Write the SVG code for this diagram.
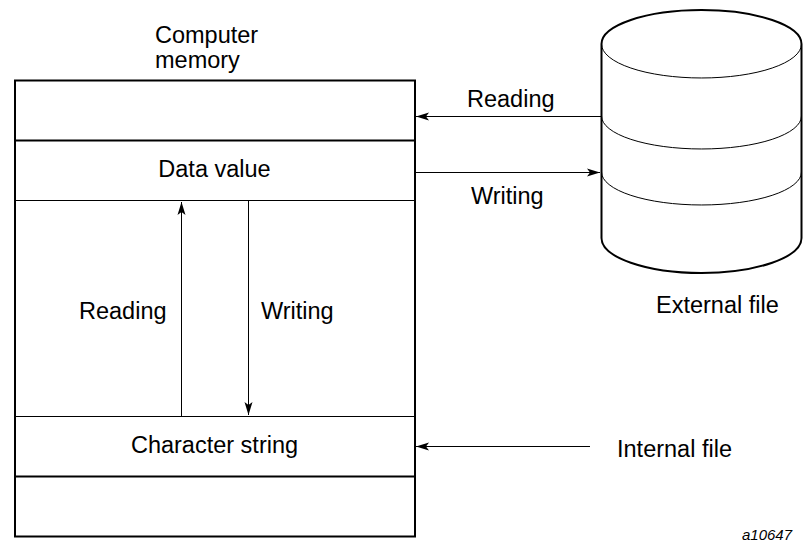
<svg xmlns="http://www.w3.org/2000/svg" width="803" height="542" viewBox="0 0 803 542">
<style>
text{font-family:"Liberation Sans",Arial,sans-serif;font-size:23.5px;fill:#000}
.thick{stroke:#000;stroke-width:2;fill:none}
.thin{stroke:#000;stroke-width:1;fill:none}
.arr{stroke:#000;stroke-width:1;fill:none;marker-end:url(#ah)}
</style>
<defs>
<marker id="ah" markerUnits="userSpaceOnUse" markerWidth="14" markerHeight="10" refX="13" refY="5" orient="auto">
<path d="M0,1 L13,5 L0,9 L3,5 Z" fill="#000"/>
</marker>
</defs>
<rect width="803" height="542" fill="#fff"/>
<g id="memory">
<rect x="15" y="80.5" width="400" height="456" class="thick"/>
<line x1="15" y1="140.5" x2="415" y2="140.5" class="thick"/>
<line x1="15" y1="200.5" x2="415" y2="200.5" class="thin"/>
<line x1="15" y1="416.5" x2="415" y2="416.5" class="thin"/>
<line x1="15" y1="476.5" x2="415" y2="476.5" class="thick"/>
<text x="155" y="43">Computer</text>
<text x="155" y="68">memory</text>
<text x="214.5" y="177" text-anchor="middle">Data value</text>
<text x="214.5" y="453" text-anchor="middle">Character string</text>
</g>
<g id="external-file">
<path d="M601.5,44 A100,34 0 0 1 801.5,44 L801.5,238 A100,35 0 0 1 601.5,238 Z" class="thick"/>
<path d="M601.5,44 A100,34 0 0 0 801.5,44" class="thin"/>
<path d="M601.5,116 A100,33 0 0 0 801.5,116" class="thin"/>
<path d="M601.5,172 A100,33 0 0 0 801.5,172" class="thin"/>
<text x="656" y="313">External file</text>
</g>
<g id="internal-file">
<text x="617" y="457">Internal file</text>
</g>
<g id="connectors">
<line x1="601" y1="116.5" x2="416" y2="116.5" class="arr"/>
<text x="467" y="107">Reading</text>
<line x1="416" y1="172.5" x2="600" y2="172.5" class="arr"/>
<text x="471" y="204">Writing</text>
<line x1="181.5" y1="416" x2="181.5" y2="202" class="arr"/>
<text x="79" y="319">Reading</text>
<line x1="248.5" y1="201" x2="248.5" y2="415" class="arr"/>
<text x="261" y="319">Writing</text>
<line x1="590" y1="446.5" x2="416" y2="446.5" class="arr"/>
</g>
<text x="742" y="540" style="font-size:15px;font-style:italic">a10647</text>
</svg>
